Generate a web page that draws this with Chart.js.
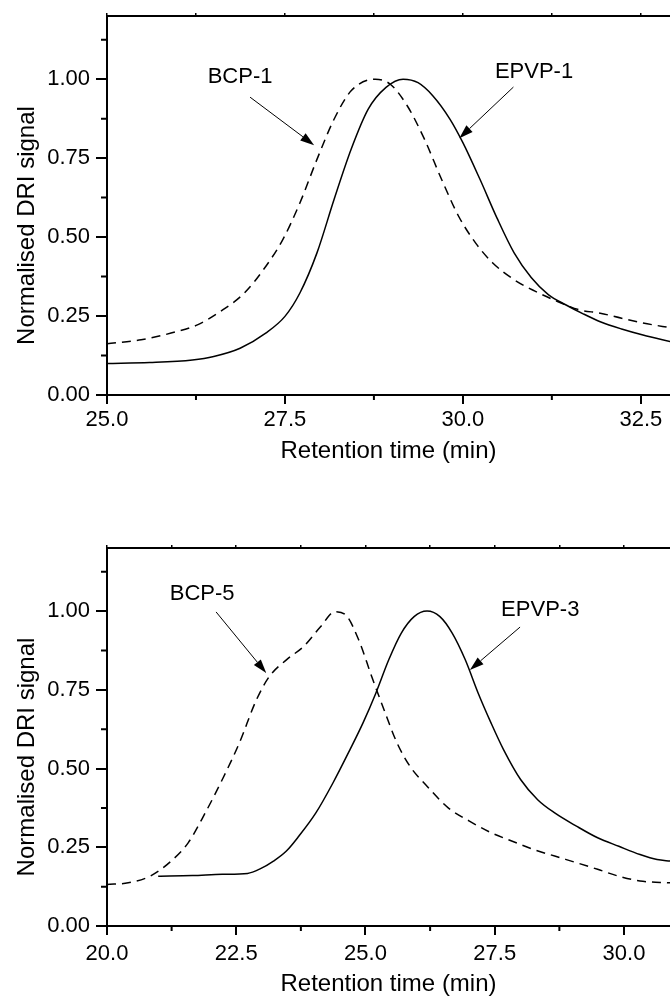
<!DOCTYPE html>
<html>
<head>
<meta charset="utf-8">
<script src="https://cdn.jsdelivr.net/npm/chart.js@4.4.1/dist/chart.umd.min.js"></script>
<style>
body{margin:0;background:#fff;}
#arriba{position:absolute;left:0;top:0;width:670px;height:490px;}
#abajo{position:absolute;left:0;top:490px;width:670px;height:507px;}
</style>
</head>
<body>
<div id="arriba"><canvas id="graficaArriba" width="670" height="490"></canvas></div>
<div id="abajo"><canvas id="graficaAbajo" width="670" height="507"></canvas></div>
<script>
// ---- panel superior: BCP-1 / EPVP-1 ----
var epvp1Time   = [25.0, 25.6, 26.2, 26.5, 26.87, 27.23, 27.5, 27.71, 27.95, 28.19, 28.43, 28.67, 28.92, 29.16, 29.37, 29.58, 29.82, 30.0, 30.24, 30.48, 30.72, 30.96, 31.2, 31.45, 31.69, 31.93, 32.23, 32.53, 32.94];
var epvp1Signal = [0.100, 0.103, 0.111, 0.122, 0.148, 0.196, 0.249, 0.323, 0.450, 0.619, 0.778, 0.905, 0.974, 1.000, 0.989, 0.947, 0.873, 0.799, 0.683, 0.560, 0.450, 0.372, 0.318, 0.285, 0.257, 0.232, 0.209, 0.190, 0.168];
var bcp1Time    = [25.0, 25.48, 25.9, 26.27, 26.63, 26.93, 27.23, 27.47, 27.71, 27.95, 28.19, 28.43, 28.77, 28.98, 29.22, 29.46, 29.7, 29.94, 30.18, 30.42, 30.72, 31.02, 31.33, 31.63, 31.93, 32.23, 32.53, 32.94];
var bcp1Signal  = [0.162, 0.175, 0.196, 0.222, 0.270, 0.323, 0.407, 0.492, 0.608, 0.746, 0.873, 0.963, 1.000, 0.984, 0.915, 0.810, 0.683, 0.566, 0.481, 0.418, 0.365, 0.328, 0.296, 0.270, 0.259, 0.243, 0.228, 0.212];
var topXRange   = [25, 32.91];
var topXMinor   = [26.25, 28.75, 31.25];

// ---- panel inferior: BCP-5 / EPVP-3 ----
var epvp3Time   = [20.99, 21.65, 22.23, 22.72, 22.97, 23.22, 23.47, 23.71, 24.04, 24.37, 24.7, 24.95, 25.2, 25.45, 25.69, 25.94, 26.19, 26.44, 26.68, 26.93, 27.18, 27.43, 27.67, 28.0, 28.33, 28.66, 29.08, 29.49, 29.9, 30.31, 30.64, 30.9];
var epvp3Signal = [0.158, 0.160, 0.164, 0.167, 0.182, 0.206, 0.238, 0.285, 0.359, 0.454, 0.560, 0.644, 0.739, 0.845, 0.929, 0.982, 1.000, 0.982, 0.929, 0.845, 0.739, 0.644, 0.560, 0.465, 0.401, 0.359, 0.317, 0.280, 0.253, 0.227, 0.211, 0.206];
var bcp5Time    = [20.0, 20.41, 20.83, 21.24, 21.57, 21.9, 22.23, 22.56, 22.89, 23.14, 23.47, 23.8, 24.13, 24.41, 24.62, 24.87, 25.12, 25.36, 25.61, 25.86, 26.19, 26.6, 27.01, 27.43, 27.84, 28.25, 28.66, 29.08, 29.49, 29.9, 30.31, 30.9];
var bcp5Signal  = [0.132, 0.137, 0.158, 0.206, 0.264, 0.359, 0.465, 0.581, 0.718, 0.792, 0.845, 0.887, 0.950, 0.998, 0.987, 0.908, 0.792, 0.686, 0.581, 0.507, 0.444, 0.375, 0.333, 0.296, 0.269, 0.243, 0.222, 0.201, 0.180, 0.158, 0.143, 0.137];
var bottomXRange = [20, 30.89];
var bottomXMinor = [21.25, 23.75, 26.25, 28.75];

var yMinor = [0.125, 0.375, 0.625, 0.875, 1.125];

// etiquetas con flecha (en unidades de los ejes)
var topNoteText   = ['BCP-1', 'EPVP-1'];
var topNoteX      = [26.87, 31.0];
var topNoteY      = [1.006, 1.022];
var topArrowFrom  = [[27.01, 0.943], [30.71, 0.975]];
var topArrowTo    = [[27.91, 0.791], [29.95, 0.813]];
var bottomNoteText  = ['BCP-5', 'EPVP-3'];
var bottomNoteX     = [21.84, 28.38];
var bottomNoteY     = [1.054, 1.003];
var bottomArrowFrom = [[22.11, 0.997], [27.99, 0.949]];
var bottomArrowTo   = [[23.08, 0.803], [27.02, 0.813]];

Chart.defaults.font.family = '"Liberation Sans", Arial, sans-serif';
Chart.defaults.color = '#000';

function puntos(t, s){
    return t.map(function(v, i){ return {x: v, y: s[i]}; });
}

// marcas menores y anotaciones
function extras(xMinor, notas){
    return {
        id: 'extras',
        afterDraw: function(chart){
            var ctx = chart.ctx, xs = chart.scales.x, ys = chart.scales.y;
            ctx.save();
            ctx.strokeStyle = '#000';
            ctx.lineWidth = 2;
            ctx.beginPath();
            xMinor.forEach(function(v){
                var p = xs.getPixelForValue(v);
                ctx.moveTo(p, xs.top); ctx.lineTo(p, xs.top + 5);
            });
            yMinor.forEach(function(v){
                var p = ys.getPixelForValue(v);
                ctx.moveTo(ys.right, p); ctx.lineTo(ys.right - 6, p);
            });
            ctx.stroke();

            ctx.fillStyle = '#000';
            ctx.font = '22px "Liberation Sans", Arial, sans-serif';
            ctx.textAlign = 'center';
            ctx.textBaseline = 'middle';
            notas.texto.forEach(function(t, i){
                ctx.fillText(t, xs.getPixelForValue(notas.x[i]), ys.getPixelForValue(notas.y[i]));
            });
            ctx.lineWidth = 1;
            notas.desde.forEach(function(d, i){
                var x1 = xs.getPixelForValue(d[0]), y1 = ys.getPixelForValue(d[1]);
                var x2 = xs.getPixelForValue(notas.hasta[i][0]), y2 = ys.getPixelForValue(notas.hasta[i][1]);
                var ang = Math.atan2(y2 - y1, x2 - x1);
                var L = 14, W = 4.5;
                var bx = x2 - L * Math.cos(ang), by = y2 - L * Math.sin(ang);
                ctx.beginPath();
                ctx.moveTo(x1, y1); ctx.lineTo(bx, by);
                ctx.stroke();
                ctx.beginPath();
                ctx.moveTo(x2, y2);
                ctx.lineTo(bx + W * Math.sin(ang), by - W * Math.cos(ang));
                ctx.lineTo(bx - W * Math.sin(ang), by + W * Math.cos(ang));
                ctx.closePath();
                ctx.fill();
            });
            ctx.restore();
        }
    };
}

function grafica(id, series, rango, xMinor, notas, caja){
    return new Chart(document.getElementById(id).getContext('2d'), {
        type: 'line',
        data: {
            datasets: series.map(function(s){
                return {
                    label: s.nombre,
                    data: s.datos,
                    borderColor: '#000',
                    borderWidth: 1.5,
                    borderDash: s.guiones,
                    pointRadius: 0,
                    fill: false,
                    cubicInterpolationMode: 'monotone'
                };
            })
        },
        options: {
            responsive: false,
            animation: false,
            layout: {autoPadding: false, padding: 0},
            plugins: {legend: {display: false}, tooltip: {enabled: false}},
            scales: {
                x: {
                    type: 'linear', position: 'bottom', min: rango[0], max: rango[1],
                    ticks: {stepSize: 2.5, includeBounds: false, autoSkip: false, maxRotation: 0,
                            padding: caja.tickPad, font: {size: 22},
                            callback: function(v){ return v.toFixed(1); }},
                    grid: {drawOnChartArea: false, tickLength: 9, color: '#000', lineWidth: 2},
                    border: {color: '#000', width: 2},
                    title: {display: true, text: 'Retention time (min)', font: {size: 24},
                            padding: {top: 0, bottom: caja.titlePad}},
                    afterFit: function(s){ s.height = caja.ejeX; s.paddingLeft = 0; s.paddingRight = 0; }
                },
                xTop: {
                    type: 'linear', position: 'top', display: true, min: rango[0], max: rango[1],
                    ticks: {display: false, stepSize: 1.25, includeBounds: false},
                    grid: {drawOnChartArea: false, tickLength: 3, color: '#000', lineWidth: 1.5},
                    border: {color: '#000', width: 2},
                    afterFit: function(s){ s.height = caja.arriba; s.paddingLeft = 0; s.paddingRight = 0; }
                },
                y: {
                    min: 0, max: 1.2,
                    ticks: {stepSize: 0.25, includeBounds: false, padding: 6, font: {size: 22},
                            callback: function(v){ return v.toFixed(2); }},
                    grid: {drawOnChartArea: false, tickLength: 11, color: '#000', lineWidth: 2},
                    border: {color: '#000', width: 2},
                    title: {display: true, text: 'Normalised DRI signal      ', font: {size: 24},
                            padding: {top: 13, bottom: 0}},
                    afterFit: function(s){ s.width = 107; s.paddingTop = 0; s.paddingBottom = 0; }
                }
            }
        },
        plugins: [extras(xMinor, notas)]
    });
}

grafica('graficaArriba', [
    {nombre: 'BCP-1', datos: puntos(bcp1Time, bcp1Signal), guiones: [9, 6]},
    {nombre: 'EPVP-1', datos: puntos(epvp1Time, epvp1Signal), guiones: []}
], topXRange, topXMinor,
{texto: topNoteText, x: topNoteX, y: topNoteY, desde: topArrowFrom, hasta: topArrowTo},
{arriba: 16, ejeX: 95, tickPad: 3, titlePad: 24});

grafica('graficaAbajo', [
    {nombre: 'BCP-5', datos: puntos(bcp5Time, bcp5Signal), guiones: [9, 6]},
    {nombre: 'EPVP-3', datos: puntos(epvp3Time, epvp3Signal), guiones: []}
], bottomXRange, bottomXMinor,
{texto: bottomNoteText, x: bottomNoteX, y: bottomNoteY, desde: bottomArrowFrom, hasta: bottomArrowTo},
{arriba: 58, ejeX: 71, tickPad: 6, titlePad: -2});
</script>
</body>
</html>
